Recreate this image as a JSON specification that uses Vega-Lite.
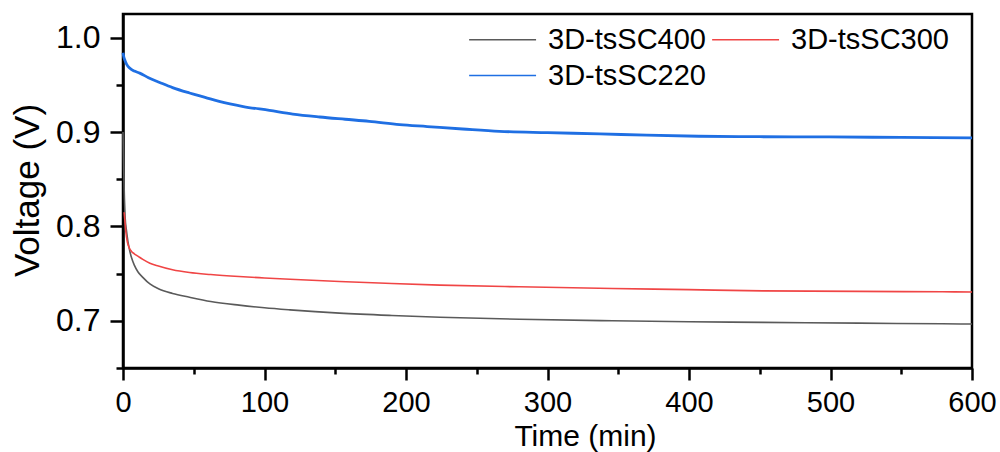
{
  "$schema": "https://vega.github.io/schema/vega-lite/v6.json",
  "width": 849,
  "height": 354,
  "autosize": {"type": "none"},
  "padding": {"left": 123, "top": 14, "right": 28, "bottom": 84},
  "background": "white",
  "config": {
    "font": "Liberation Sans",
    "view": {"stroke": "black", "strokeWidth": 2.5},
    "axis": {
      "domainColor": "black", "domainWidth": 2.5,
      "tickColor": "black", "tickWidth": 2.5,
      "grid": false,
      "labelColor": "black", "labelFont": "Liberation Sans", "labelFontSize": 29,
      "titleColor": "black", "titleFont": "Liberation Sans", "titleFontWeight": "normal"
    },
    "legend": {"labelFont": "Liberation Sans"}
  },
  "data": {"values": [
    {"t": 0, "v": 0.900, "s": "3D-tsSC400"},
    {"t": 0.5, "v": 0.860, "s": "3D-tsSC400"},
    {"t": 1, "v": 0.830, "s": "3D-tsSC400"},
    {"t": 1.5, "v": 0.810, "s": "3D-tsSC400"},
    {"t": 2.5, "v": 0.795, "s": "3D-tsSC400"},
    {"t": 3.5, "v": 0.784, "s": "3D-tsSC400"},
    {"t": 4.5, "v": 0.776, "s": "3D-tsSC400"},
    {"t": 6, "v": 0.767, "s": "3D-tsSC400"},
    {"t": 8, "v": 0.759, "s": "3D-tsSC400"},
    {"t": 10.5, "v": 0.752, "s": "3D-tsSC400"},
    {"t": 14, "v": 0.746, "s": "3D-tsSC400"},
    {"t": 19, "v": 0.739, "s": "3D-tsSC400"},
    {"t": 25, "v": 0.734, "s": "3D-tsSC400"},
    {"t": 35, "v": 0.729, "s": "3D-tsSC400"},
    {"t": 47, "v": 0.725, "s": "3D-tsSC400"},
    {"t": 62, "v": 0.7205, "s": "3D-tsSC400"},
    {"t": 82, "v": 0.7166, "s": "3D-tsSC400"},
    {"t": 100, "v": 0.7138, "s": "3D-tsSC400"},
    {"t": 118, "v": 0.7116, "s": "3D-tsSC400"},
    {"t": 153, "v": 0.7081, "s": "3D-tsSC400"},
    {"t": 190, "v": 0.7056, "s": "3D-tsSC400"},
    {"t": 224, "v": 0.7038, "s": "3D-tsSC400"},
    {"t": 280, "v": 0.7016, "s": "3D-tsSC400"},
    {"t": 346, "v": 0.7000, "s": "3D-tsSC400"},
    {"t": 400, "v": 0.6990, "s": "3D-tsSC400"},
    {"t": 452, "v": 0.6983, "s": "3D-tsSC400"},
    {"t": 520, "v": 0.6975, "s": "3D-tsSC400"},
    {"t": 579, "v": 0.6968, "s": "3D-tsSC400"},
    {"t": 600, "v": 0.6966, "s": "3D-tsSC400"},
    {"t": 0.8, "v": 0.815, "s": "3D-tsSC300"},
    {"t": 1.4, "v": 0.805, "s": "3D-tsSC300"},
    {"t": 2.1, "v": 0.793, "s": "3D-tsSC300"},
    {"t": 3, "v": 0.784, "s": "3D-tsSC300"},
    {"t": 4.5, "v": 0.777, "s": "3D-tsSC300"},
    {"t": 6, "v": 0.7735, "s": "3D-tsSC300"},
    {"t": 8, "v": 0.771, "s": "3D-tsSC300"},
    {"t": 10.5, "v": 0.7685, "s": "3D-tsSC300"},
    {"t": 14, "v": 0.765, "s": "3D-tsSC300"},
    {"t": 19, "v": 0.761, "s": "3D-tsSC300"},
    {"t": 25, "v": 0.758, "s": "3D-tsSC300"},
    {"t": 35, "v": 0.754, "s": "3D-tsSC300"},
    {"t": 47, "v": 0.7511, "s": "3D-tsSC300"},
    {"t": 62, "v": 0.749, "s": "3D-tsSC300"},
    {"t": 82, "v": 0.7469, "s": "3D-tsSC300"},
    {"t": 100, "v": 0.7454, "s": "3D-tsSC300"},
    {"t": 118, "v": 0.744, "s": "3D-tsSC300"},
    {"t": 153, "v": 0.7416, "s": "3D-tsSC300"},
    {"t": 190, "v": 0.7395, "s": "3D-tsSC300"},
    {"t": 224, "v": 0.7378, "s": "3D-tsSC300"},
    {"t": 280, "v": 0.736, "s": "3D-tsSC300"},
    {"t": 346, "v": 0.7342, "s": "3D-tsSC300"},
    {"t": 400, "v": 0.733, "s": "3D-tsSC300"},
    {"t": 452, "v": 0.7317, "s": "3D-tsSC300"},
    {"t": 520, "v": 0.7312, "s": "3D-tsSC300"},
    {"t": 579, "v": 0.7307, "s": "3D-tsSC300"},
    {"t": 600, "v": 0.7305, "s": "3D-tsSC300"},
    {"t": 0, "v": 0.984, "s": "3D-tsSC220"},
    {"t": 0.5, "v": 0.980, "s": "3D-tsSC220"},
    {"t": 1.2, "v": 0.9765, "s": "3D-tsSC220"},
    {"t": 2.5, "v": 0.972, "s": "3D-tsSC220"},
    {"t": 4.7, "v": 0.9677, "s": "3D-tsSC220"},
    {"t": 8, "v": 0.9645, "s": "3D-tsSC220"},
    {"t": 11.8, "v": 0.9624, "s": "3D-tsSC220"},
    {"t": 18, "v": 0.9575, "s": "3D-tsSC220"},
    {"t": 25.9, "v": 0.9525, "s": "3D-tsSC220"},
    {"t": 35, "v": 0.947, "s": "3D-tsSC220"},
    {"t": 47, "v": 0.9413, "s": "3D-tsSC220"},
    {"t": 58, "v": 0.9367, "s": "3D-tsSC220"},
    {"t": 68, "v": 0.9324, "s": "3D-tsSC220"},
    {"t": 85, "v": 0.927, "s": "3D-tsSC220"},
    {"t": 103.5, "v": 0.9229, "s": "3D-tsSC220"},
    {"t": 120, "v": 0.919, "s": "3D-tsSC220"},
    {"t": 139, "v": 0.9159, "s": "3D-tsSC220"},
    {"t": 157, "v": 0.9135, "s": "3D-tsSC220"},
    {"t": 174, "v": 0.9113, "s": "3D-tsSC220"},
    {"t": 195.5, "v": 0.9078, "s": "3D-tsSC220"},
    {"t": 215, "v": 0.9058, "s": "3D-tsSC220"},
    {"t": 240, "v": 0.9032, "s": "3D-tsSC220"},
    {"t": 266, "v": 0.9007, "s": "3D-tsSC220"},
    {"t": 300, "v": 0.8993, "s": "3D-tsSC220"},
    {"t": 337, "v": 0.898, "s": "3D-tsSC220"},
    {"t": 370, "v": 0.8966, "s": "3D-tsSC220"},
    {"t": 407, "v": 0.8955, "s": "3D-tsSC220"},
    {"t": 450, "v": 0.895, "s": "3D-tsSC220"},
    {"t": 499, "v": 0.8948, "s": "3D-tsSC220"},
    {"t": 550, "v": 0.8942, "s": "3D-tsSC220"},
    {"t": 600, "v": 0.8937, "s": "3D-tsSC220"}
  ]},
  "layer": [
    {
      "mark": {"type": "point", "opacity": 0},
      "encoding": {
        "x": {"field": "t", "type": "quantitative",
          "scale": {"domain": [0, 600], "nice": false, "zero": false},
          "axis": {"orient": "bottom", "values": [50, 150, 250, 350, 450, 550], "labels": false, "domain": false, "tickSize": 6, "title": null}},
        "y": {"field": "v", "type": "quantitative",
          "scale": {"domain": [0.65, 1.025], "nice": false, "zero": false},
          "axis": {"orient": "left", "values": [0.65, 0.75, 0.85, 0.95], "labels": false, "domain": false, "tickSize": 7, "title": null}}
      }
    },
    {
      "mark": {"type": "line", "interpolate": "monotone"},
      "encoding": {
        "x": {"field": "t", "type": "quantitative",
          "scale": {"domain": [0, 600], "nice": false, "zero": false},
          "axis": {"orient": "bottom", "values": [0, 100, 200, 300, 400, 500, 600], "tickSize": 12, "labelPadding": 8, "labelFlush": false,
            "title": "Time (min)", "titleFontSize": 30, "titleX": 462, "titleY": 77, "titleBaseline": "alphabetic", "titleAlign": "center"}},
        "y": {"field": "v", "type": "quantitative",
          "scale": {"domain": [0.65, 1.025], "nice": false, "zero": false},
          "axis": {"orient": "left", "values": [0.7, 0.8, 0.9, 1.0], "format": ".1f", "tickSize": 13, "labelPadding": 10, "labelFontSize": 32,
            "title": "Voltage (V)", "titleFontSize": 35, "titleX": -85, "titleY": 176, "titleBaseline": "alphabetic", "titleAlign": "center", "titleAngle": -90}},
        "color": {"field": "s", "type": "nominal",
          "scale": {"domain": ["3D-tsSC400", "3D-tsSC220", "3D-tsSC300"], "range": ["#5a5a5a", "#1f6fe3", "#f04545"]},
          "legend": {"title": null, "orient": "none", "legendX": 340, "legendY": 11, "columns": 2, "padding": 0,
            "symbolType": "M-1,0H7", "symbolSize": 280, "symbolStrokeWidth": 1.5, "labelFontSize": 29, "labelColor": "black",
            "labelOffset": 56, "columnPadding": -2, "rowPadding": 6,
            "labelExpr": "datum.label == '3D-tsSC220' ? '\u00a03D-tsSC220' : datum.label"}},
        "strokeWidth": {"condition": {"test": "datum.s == '3D-tsSC220'", "value": 2.8}, "value": 1.6}
      }
    }
  ],
  "resolve": {"axis": {"x": "independent", "y": "independent"}}
}
